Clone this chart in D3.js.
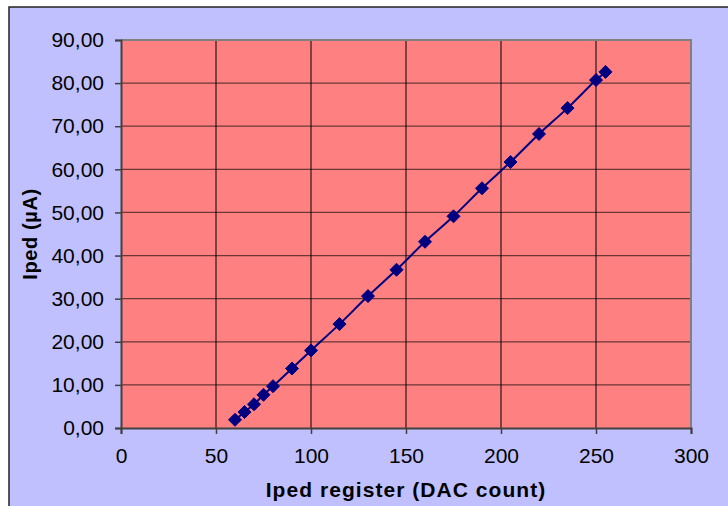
<!DOCTYPE html>
<html><head><meta charset="utf-8">
<script src="https://cdn.jsdelivr.net/npm/d3@7"></script>
<style>html,body{margin:0;padding:0;background:#fff;}svg{display:block;}</style>
</head><body>
<script>
const dacCounts = [60, 65, 70, 75, 80, 90, 100, 115, 130, 145, 160, 175, 190, 205, 220, 235, 250, 255];
const ipedValues = [1.9, 3.7, 5.5, 7.7, 9.7, 13.8, 18.0, 24.1, 30.6, 36.7, 43.2, 49.1, 55.6, 61.7, 68.2, 74.2, 80.7, 82.6];
const xTicks = [0, 50, 100, 150, 200, 250, 300];
const yTicks = [0, 10, 20, 30, 40, 50, 60, 70, 80, 90];
const xTitle = "Iped register (DAC count)";
const yTitle = "Iped (µA)";

const W = 728, H = 506;
const m = {left: 121, right: 37, top: 40, bottom: 78};
const svg = d3.select("body").append("svg").attr("width", W).attr("height", H);
const font = "'Liberation Sans', Arial, sans-serif";

// chart area
svg.append("rect").attr("x", 9).attr("y", 7).attr("width", W).attr("height", H)
  .attr("fill", "#C0C0FF").attr("stroke", "#222").attr("stroke-width", 1.5);

const x = d3.scaleLinear().domain([0, 300]).range([m.left, W - m.right]);
const y = d3.scaleLinear().domain([0, 90]).range([H - m.bottom, m.top]);

svg.append("rect").attr("x", x(0)).attr("y", y(90))
  .attr("width", x(300) - x(0)).attr("height", y(0) - y(90)).attr("fill", "#FF8080");

// horizontal grid
svg.append("g").selectAll("line").data(yTicks.filter(d => d > 0 && d < 90)).join("line")
  .attr("x1", x(0)).attr("x2", x(300)).attr("y1", d => y(d)).attr("y2", d => y(d))
  .attr("stroke", "#6a3636").attr("stroke-width", 1.3);
// vertical grid
svg.append("g").selectAll("line").data(xTicks.filter(d => d > 0 && d < 300)).join("line")
  .attr("x1", d => x(d)).attr("x2", d => x(d)).attr("y1", y(90)).attr("y2", y(0))
  .attr("stroke", "#000").attr("stroke-width", 1);

// plot border top/right
svg.append("path").attr("d", `M${x(0)},${y(90)}H${x(300)}V${y(0)}`)
  .attr("fill", "none").attr("stroke", "#808080").attr("stroke-width", 2);

// axes
const xAxis = svg.append("g").attr("transform", `translate(0,${y(0)})`)
  .call(d3.axisBottom(x).tickValues(xTicks).tickSize(6).tickPadding(14).tickFormat(d3.format("d")));
const yAxis = svg.append("g").attr("transform", `translate(${x(0)},0)`)
  .call(d3.axisLeft(y).tickValues(yTicks).tickSize(6).tickPadding(11).tickFormat(d => d3.format(".2f")(d).replace(".", ",")));
[xAxis, yAxis].forEach(a => {
  a.select(".domain").attr("stroke", "#404040").attr("stroke-width", 2);
  a.selectAll(".tick line").attr("stroke", "#404040").attr("stroke-width", 1.5);
  a.selectAll(".tick text").attr("font-family", font).attr("font-size", 21).attr("fill", "#000");
});

// line
const pts = dacCounts.map((d, i) => [d, ipedValues[i]]);
svg.append("path").datum(pts)
  .attr("d", d3.line().x(d => x(d[0])).y(d => y(d[1])).curve(d3.curveCatmullRom.alpha(0.5)))
  .attr("fill", "none").attr("stroke", "#000080").attr("stroke-width", 2);

// markers
svg.append("g").selectAll("path").data(pts).join("path")
  .attr("transform", d => `translate(${x(d[0])},${y(d[1])})`)
  .attr("d", "M0,-6.5L6.5,0L0,6.5L-6.5,0Z")
  .attr("fill", "#000080").attr("stroke", "#000080").attr("stroke-width", 1);

// titles
svg.append("text").attr("x", (x(0) + x(300)) / 2).attr("y", 497)
  .attr("text-anchor", "middle").attr("font-family", font).attr("font-weight", "bold")
  .attr("font-size", 21).attr("letter-spacing", 1.05).text(xTitle);
svg.append("text").attr("transform", `translate(37,${(y(0) + y(90)) / 2}) rotate(-90)`)
  .attr("text-anchor", "middle").attr("font-family", font).attr("font-weight", "bold")
  .attr("font-size", 20).attr("letter-spacing", 0.6).text(yTitle);
</script>
</body></html>
